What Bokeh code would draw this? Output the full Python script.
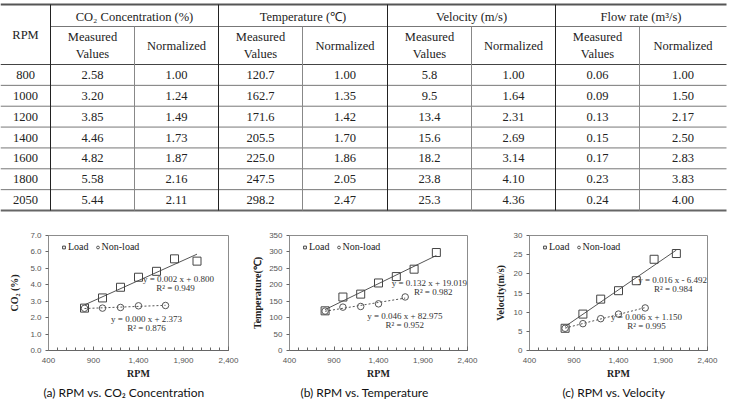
import numpy as np
from bokeh.plotting import figure
from bokeh.layouts import column, row
from bokeh.models import (Range1d, Legend, LegendItem, Label, FixedTicker,
                          NumeralTickFormatter, Title)
from bokeh.core.properties import value
from bokeh.embed import file_html
from bokeh.resources import INLINE

# ---------------- data ----------------
rpm = [800, 1000, 1200, 1400, 1600, 1800, 2050]
co2_measured = [2.58, 3.20, 3.85, 4.46, 4.82, 5.58, 5.44]
co2_norm = [1.00, 1.24, 1.49, 1.73, 1.87, 2.16, 2.11]
temp_measured = [120.7, 162.7, 171.6, 205.5, 225.0, 247.5, 298.2]
temp_norm = [1.00, 1.35, 1.42, 1.70, 1.86, 2.05, 2.47]
vel_measured = [5.8, 9.5, 13.4, 15.6, 18.2, 23.8, 25.3]
vel_norm = [1.00, 1.64, 2.31, 2.69, 3.14, 4.10, 4.36]
flow_measured = [0.06, 0.09, 0.13, 0.15, 0.17, 0.23, 0.24]
flow_norm = [1.00, 1.50, 2.17, 2.50, 2.83, 3.83, 4.00]

group_headers = ["CO\u2082 Concentration (%)", "Temperature (\u2103)",
                 "Velocity (m/s)", "Flow rate (m\u00b3/s)"]
sub_headers = ["Measured\nValues", "Normalized"]

nonload_rpm = [800, 1000, 1200, 1400, 1700]
co2_nonload = [2.57, 2.58, 2.62, 2.72, 2.74]
temp_nonload = [120, 132, 134, 142, 163]
vel_nonload = [5.8, 7.0, 8.3, 9.5, 11.1]

x_ticks = [400, 900, 1400, 1900, 2400]

SERIF_NAME = "Liberation Serif"
SERIF = value(SERIF_NAME)
SANS = "Liberation Sans"

# ---------------- table ----------------
TW, TH = 730, 218
t = figure(width=TW, height=TH, x_range=Range1d(0, TW), y_range=Range1d(TH, 0),
           output_backend="svg", toolbar_location=None, min_border=0)
t.axis.visible = False
t.grid.visible = False
t.outline_line_color = None

edges = [0, 50, 134, 218, 302, 387, 471, 555, 639, 726]
y_top, y_mid, y_head, y_bot = 4, 26, 64, 210
row_h = (y_bot - y_head) / len(rpm)

t.segment(x0=[0], y0=[y_top], x1=[edges[-1]], y1=[y_top], line_color="#555", line_width=2)
t.segment(x0=[edges[1]], y0=[y_mid], x1=[edges[-1]], y1=[y_mid], line_color="#777", line_width=1)
t.segment(x0=[0], y0=[y_head], x1=[edges[-1]], y1=[y_head], line_color="#444", line_width=1)
rl = [y_head + row_h * k for k in range(1, len(rpm))]
t.segment(x0=[0] * len(rl), y0=rl, x1=[edges[-1]] * len(rl), y1=rl, line_color="#777", line_width=1)
t.segment(x0=[0], y0=[y_bot], x1=[edges[-1]], y1=[y_bot], line_color="#666", line_width=2)
dark = [edges[1], edges[3], edges[5], edges[7]]
t.segment(x0=dark, y0=[y_top] * 4, x1=dark, y1=[y_bot] * 4, line_color="#222", line_width=1)
light = [edges[2], edges[4], edges[6], edges[8]]
t.segment(x0=light, y0=[y_mid] * 4, x1=light, y1=[y_bot] * 4, line_color="#888", line_width=1)

tx, ty, tt = [], [], []
tx.append((edges[0] + edges[1]) / 2); ty.append((y_top + y_head) / 2); tt.append("RPM")
for g, h in enumerate(group_headers):
    tx.append((edges[1 + 2 * g] + edges[3 + 2 * g]) / 2); ty.append((y_top + y_mid) / 2 + 1); tt.append(h)
    for s, sh in enumerate(sub_headers):
        tx.append((edges[1 + 2 * g + s] + edges[2 + 2 * g + s]) / 2)
        ty.append((y_mid + y_head) / 2)
        tt.append(sh)

cols = [(co2_measured, "{:.2f}"), (co2_norm, "{:.2f}"),
        (temp_measured, "{:.1f}"), (temp_norm, "{:.2f}"),
        (vel_measured, "{:.1f}"), (vel_norm, "{:.2f}"),
        (flow_measured, "{:.2f}"), (flow_norm, "{:.2f}")]
for i, r in enumerate(rpm):
    yc = y_head + row_h * (i + 0.5)
    tx.append((edges[0] + edges[1]) / 2); ty.append(yc); tt.append(str(r))
    for c, (vals, fmt) in enumerate(cols):
        tx.append((edges[1 + c] + edges[2 + c]) / 2); ty.append(yc); tt.append(fmt.format(vals[i]))

t.text(x=tx, y=ty, text=tt, text_align="center", text_baseline="middle",
       text_font=SERIF, text_font_size="12.5px", text_color="#222", text_line_height=1.2)

# ---------------- charts ----------------
CH = 188


def make_chart(width, left, right, ymax, ystep, yfmt, ylabel, load_y, nl_y,
               eqs, caption, cap_off, ylab_standoff, legend_x):
    p = figure(width=width, height=CH, x_range=Range1d(400, 2400), y_range=Range1d(0, ymax),
               output_backend="svg", toolbar_location=None,
               min_border_left=left, min_border_right=right,
               min_border_top=17, min_border_bottom=56)
    p.grid.visible = False
    p.outline_line_color = "#8c8c8c"

    p.xaxis.ticker = FixedTicker(ticks=x_ticks, minor_ticks=list(range(400, 2401, 100)))
    p.xaxis.formatter = NumeralTickFormatter(format="0,0")
    p.yaxis.ticker = FixedTicker(ticks=list(np.arange(0, ymax + ystep / 2, ystep)))
    p.yaxis.formatter = NumeralTickFormatter(format=yfmt)

    for ax in (p.xaxis[0], p.yaxis[0]):
        ax.axis_line_color = "#666"
        ax.major_tick_line_color = "#666"
        ax.minor_tick_line_color = "#666"
        ax.major_label_text_font = SANS
        ax.major_label_text_font_size = "8px"
        ax.major_label_text_color = "#555"
        ax.axis_label_text_font = SERIF_NAME
        ax.axis_label_text_font_style = "bold"
        ax.axis_label_text_font_size = "10px"
        ax.axis_label_text_color = "#222"
    xa = p.xaxis[0]
    xa.major_tick_in, xa.major_tick_out = 4, 0
    xa.minor_tick_in, xa.minor_tick_out = 3, 0
    xa.major_label_standoff = 7
    xa.axis_label = "RPM"
    xa.axis_label_standoff = 2
    ya = p.yaxis[0]
    ya.axis_line_color = "#8c8c8c"
    ya.major_tick_in, ya.major_tick_out = 0, 3
    ya.minor_tick_line_color = None
    ya.major_label_standoff = 4
    ya.axis_label = ylabel
    ya.axis_label_standoff = ylab_standoff

    # trend lines: least-squares fits of each series
    for xs, ys, dash in ((rpm, load_y, "solid"), (nonload_rpm, nl_y, "2 2")):
        k, b = np.polyfit(xs, ys, 1)
        xl = [min(xs), max(xs)]
        p.line(x=xl, y=[k * v + b for v in xl], line_color="#555", line_width=1, line_dash=dash)

    r1 = p.scatter(x=rpm, y=load_y, marker="square", size=8, fill_color=None,
                   line_color="#444", line_width=1)
    r2 = p.scatter(x=nonload_rpm, y=nl_y, marker="circle", size=6.5, fill_color=None,
                   line_color="#555", line_width=1)

    leg = Legend(items=[LegendItem(label="Load", renderers=[r1]),
                        LegendItem(label="Non-load", renderers=[r2])],
                 orientation="horizontal", location=(legend_x, 98),
                 border_line_color=None, background_fill_alpha=0,
                 padding=0, margin=0, spacing=5, glyph_width=7, glyph_height=10,
                 label_standoff=1, label_height=10,
                 label_text_font=SERIF_NAME, label_text_font_size="10px",
                 label_text_color="#222")
    p.add_layout(leg)

    for (ex, ey, etxt, al) in eqs:
        p.add_layout(Label(x=ex, y=ey, text=etxt, text_align=al, text_baseline="middle",
                           text_font=SERIF_NAME, text_font_size="9px", text_color="#333"))

    p.add_layout(Title(text=caption, align="left", offset=cap_off, standoff=2,
                       text_font="Lato", text_font_size="12px", text_font_style="normal",
                       text_color="#111"), "below")
    return p


fa = make_chart(245, 48, 17, 7.0, 1.0, "0.0", "CO\u2082 (%)", co2_measured, co2_nonload,
                [(1844, 4.36, "y = 0.002 x + 0.800", "center"), (1811, 3.80, "R\u00b2 = 0.949", "center"),
                 (1489, 1.90, "y = 0.000 x + 2.373", "center"), (1489, 1.35, "R\u00b2 = 0.876", "center")],
                "(a) RPM vs. CO\u2082 Concentration", -5, 7, 12)
fb = make_chart(243, 44, 21, 350, 50, "0", "Temperature(\u2103)", temp_measured, temp_nonload,
                [(2395, 205, "y = 0.132 x + 19.019", "right"), (2014, 178, "R\u00b2 = 0.982", "center"),
                 (1696, 104, "y = 0.046 x + 82.975", "center"), (1696, 79, "R\u00b2 = 0.952", "center")],
                "(b) RPM vs. Temperature", 11, 3, 12)
fc = make_chart(242, 41, 23, 30, 5, "0", "Velocity(m/s)", vel_measured, vel_nonload,
                [(2395, 18.4, "y = 0.016 x - 6.492", "right"), (2015, 16.1, "R\u00b2 = 0.984", "center"),
                 (1715, 8.8, "y = 0.006 x + 1.150", "center"), (1715, 6.5, "R\u00b2 = 0.995", "center")],
                "(c) RPM vs. Velocity", 33, 5, 12)

layout = column(t, row(fa, fb, fc, spacing=0), spacing=0)
open("out.html", "w").write(file_html(layout, INLINE))
